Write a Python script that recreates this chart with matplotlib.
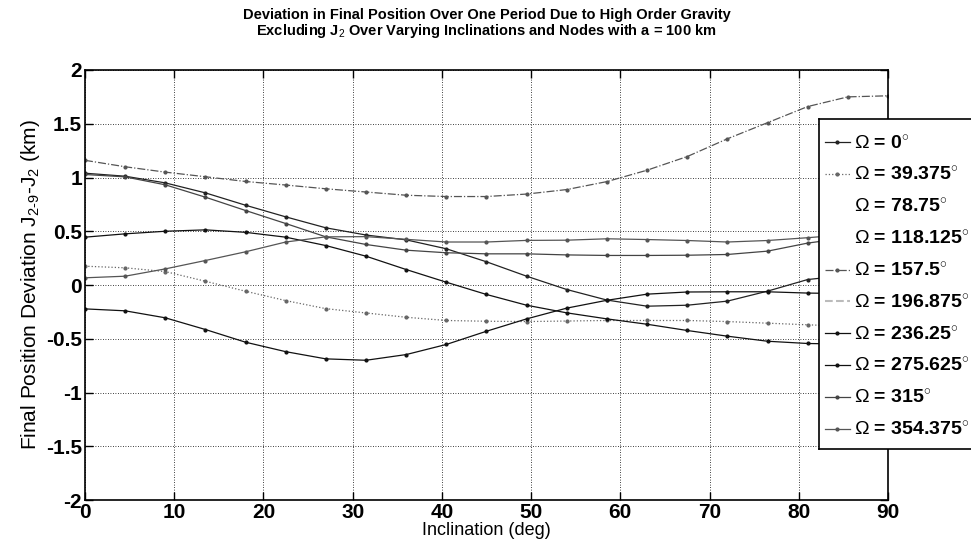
import matplotlib
matplotlib.use("Agg")
import matplotlib.pyplot as plt
from matplotlib.patches import Rectangle
from matplotlib.lines import Line2D
import numpy as np

# inclination grid (deg)
inclination = np.linspace(0, 90, 21)

# node values in the legend (deg)
node_labels = ["0", "39.375", "78.75", "118.125", "157.5",
               "196.875", "236.25", "275.625", "315", "354.375"]

# deviation curves (km), one per visible node
dev_0 = [1.04, 1.012, 0.95, 0.857, 0.742, 0.634, 0.532, 0.465, 0.42, 0.337, 0.216,
         0.082, -0.042, -0.14, -0.197, -0.188, -0.15, -0.057, 0.051, 0.09, 0.10]
dev_39 = [0.175, 0.16, 0.125, 0.035, -0.058, -0.145, -0.22, -0.26, -0.30, -0.33, -0.337,
          -0.34, -0.335, -0.33, -0.33, -0.33, -0.34, -0.355, -0.37, -0.385, -0.39]
dev_157 = [1.16, 1.10, 1.05, 1.007, 0.963, 0.93, 0.895, 0.865, 0.835, 0.823, 0.823,
           0.846, 0.888, 0.962, 1.068, 1.195, 1.36, 1.51, 1.66, 1.75, 1.76]
dev_236 = [-0.222, -0.24, -0.305, -0.414, -0.532, -0.62, -0.687, -0.70, -0.647, -0.553, -0.43,
           -0.315, -0.215, -0.142, -0.085, -0.065, -0.063, -0.063, -0.075, -0.08, -0.085]
dev_275 = [0.445, 0.476, 0.50, 0.513, 0.49, 0.445, 0.367, 0.268, 0.144, 0.026, -0.088,
           -0.188, -0.259, -0.315, -0.365, -0.423, -0.476, -0.523, -0.544, -0.55, -0.55]
dev_315 = [1.028, 1.006, 0.932, 0.817, 0.693, 0.572, 0.448, 0.377, 0.324, 0.30, 0.29,
           0.29, 0.28, 0.275, 0.275, 0.277, 0.284, 0.315, 0.39, 0.44, 0.48]
dev_354 = [0.067, 0.082, 0.15, 0.228, 0.309, 0.40, 0.448, 0.45, 0.425, 0.40, 0.40,
           0.415, 0.417, 0.43, 0.423, 0.414, 0.40, 0.414, 0.44, 0.47, 0.48]

# 描画スタイル (scan is grey-scale, the light coloured curves vanished)
series = [
    (dev_0, "-", "#222222"),
    (dev_39, ":", "#666666"),
    (None, "none", "white"),
    (None, "none", "white"),
    (dev_157, "-.", "#555555"),
    (None, "--", "#bbbbbb"),
    (dev_236, "-", "#111111"),
    (dev_275, "-", "#111111"),
    (dev_315, "-", "#444444"),
    (dev_354, "-", "#555555"),
]


def setup_fonts():
    plt.rcParams["font.family"] = ["Liberation Sans", "DejaVu Sans"]
    plt.rcParams["mathtext.fontset"] = "custom"
    plt.rcParams["mathtext.rm"] = "Liberation Sans"
    plt.rcParams["mathtext.it"] = "Liberation Sans"
    plt.rcParams["mathtext.bf"] = "Liberation Sans:bold"


def draw_legend_box(fig, left, top, bottom):
    """
    右端で切れた凡例の枠 (figure pixel coords)
    """
    W, H = 971.0, 546.0
    x0, x1 = left / W, 1.2
    y0, y1 = 1 - bottom / H, 1 - top / H
    fill = Rectangle((x0, y0), x1 - x0, y1 - y0, transform=fig.transFigure,
                     facecolor="white", edgecolor="none", linewidth=0, zorder=3)
    fill.set_clip_on(False)
    fig.add_artist(fill)
    # 3辺だけ別々の線で描く
    for xs, ys in [([x1, x0], [y1, y1]), ([x0, x0], [y1, y0]), ([x0, x1], [y0, y0])]:
        fig.add_artist(Line2D(xs, ys, transform=fig.transFigure, color="black",
                              linewidth=1.2, zorder=3.5))


def main():
    setup_fonts()
    fig = plt.figure(figsize=(9.71, 5.46), dpi=100)
    ax = fig.add_axes([0.0875, 0.0842, 0.8270, 0.7876])

    for (vals, ls, col), lab in zip(series, node_labels):
        label = r"$\Omega$ = " + lab + r"$^{\circ}$"
        if vals is None:
            ax.plot([], [], linestyle=ls, color=col, label=label)
            continue
        ax.plot(inclination, vals, linestyle=ls, color=col, linewidth=0.9,
                marker=".", markersize=4, label=label)

    ax.set_xlim(0, 90)
    ax.set_ylim(-2, 2)
    ax.set_xticks(np.arange(0, 91, 10))
    ax.set_yticks(np.arange(-2, 2.01, 0.5))
    ax.set_yticklabels(["-2", "-1.5", "-1", "-0.5", "0", "0.5", "1", "1.5", "2"])
    ax.tick_params(direction="in", top=True, right=True, length=6, width=1,
                   labelsize=15, pad=2)
    for t in ax.get_xticklabels() + ax.get_yticklabels():
        t.set_fontweight("bold")
    for s in ax.spines.values():
        s.set_linewidth(1.2)
    ax.grid(True, linestyle=(0, (1, 2)), color="black", linewidth=0.6)

    ax.set_title("Deviation in Final Position Over One Period Due to High Order Gravity\n"
                 "Excluding J$_2$ Over Varying Inclinations and Nodes with a = 100 km",
                 fontsize=10.5, fontweight="bold", linespacing=1.0, pad=25)
    ax.set_xlabel("Inclination (deg)", fontsize=13, labelpad=0)
    ax.set_ylabel("Final Position Deviation J$_{2\u20109}$-J$_2$ (km)", fontsize=15, labelpad=3)

    # 凡例 (枠は自前で描く)
    draw_legend_box(fig, 819, 119, 449)
    leg = fig.legend(loc="upper left", bbox_to_anchor=(819 / 971, 1 - 129 / 546),
                     borderaxespad=0, fontsize=14, frameon=False, handlelength=1.3,
                     handletextpad=0.2, labelspacing=0.7, borderpad=0.3)
    leg.set_zorder(5)
    for t in leg.get_texts():
        t.set_fontweight("bold")

    fig.savefig("out.png", dpi=100)
    plt.close(fig)


if __name__ == "__main__":
    main()
